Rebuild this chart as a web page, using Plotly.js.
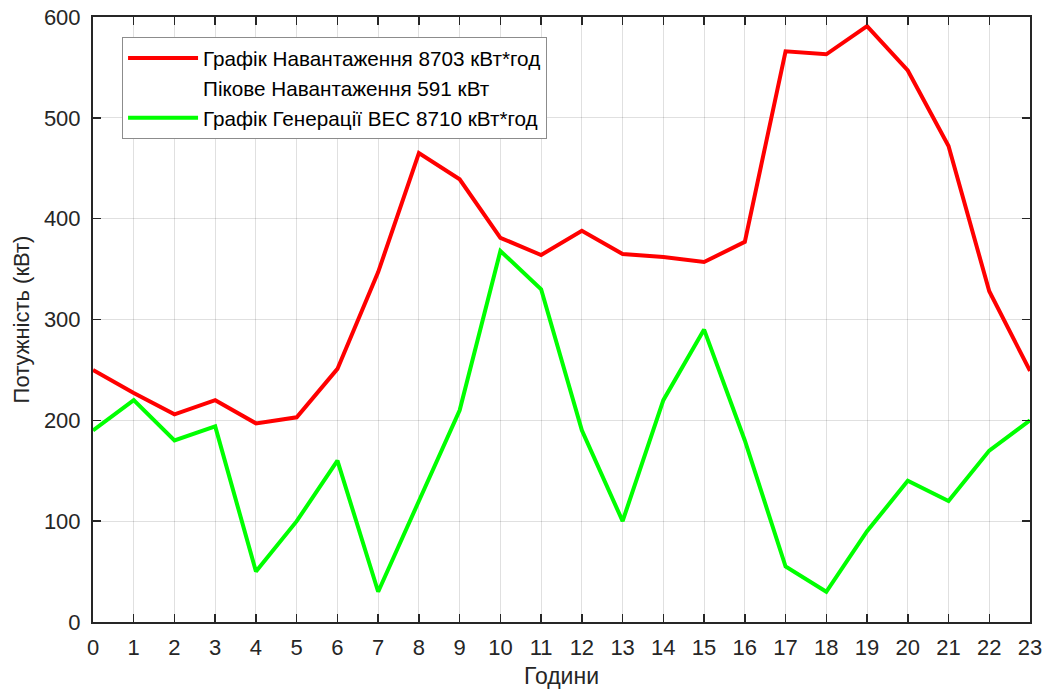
<!DOCTYPE html>
<html>
<head>
<meta charset="utf-8">
<script src="https://cdn.plot.ly/plotly-3.0.1.min.js"></script>
<style>html,body{margin:0;padding:0;background:#fff;}#chart{width:1046px;height:693px;}</style>
</head>
<body>
<div id="chart"></div>
<script>
const hours = [0,1,2,3,4,5,6,7,8,9,10,11,12,13,14,15,16,17,18,19,20,21,22,23];
const loadValues = [250,227,206,220,197,203,251,347,465,439,381,364,388,365,362,357,377,566,563,591,547,472,328,249];
const genValues = [190,220,180,194,50,100,160,30,120,210,368,330,190,100,220,290,180,55,30,90,140,120,170,200];
const loadName = "Графік Навантаження 8703 кВт*год";
const peakName = "Пікове Навантаження 591 кВт";
const genName = "Графік Генерації ВЕС 8710 кВт*год";
const xTicks = hours;
const yTicks = [0,100,200,300,400,500,600];

const font = "Liberation Sans, Arial, sans-serif";
const traces = [
  {x: hours, y: loadValues, type: 'scatter', mode: 'lines', name: loadName,
   line: {color: '#ff0000', width: 4}},
  {x: [null], y: [null], type: 'scatter', mode: 'lines', name: peakName,
   line: {color: 'rgba(0,0,0,0)', width: 0}},
  {x: hours, y: genValues, type: 'scatter', mode: 'lines', name: genName,
   line: {color: '#00ff00', width: 4}}
];
const axisCommon = {
  showline: true, mirror: 'ticks', linecolor: '#262626', linewidth: 2,
  ticks: 'inside', ticklen: 8, tickwidth: 1.5, tickcolor: '#262626',
  showgrid: true, gridcolor: 'rgba(0,0,0,0.12)', gridwidth: 1,
  zeroline: false, tickfont: {family: font, size: 22, color: '#262626'}
};
const layout = {
  width: 1046, height: 693,
  margin: {l: 93, r: 16, t: 17, b: 71},
  paper_bgcolor: '#fff', plot_bgcolor: '#fff',
  font: {family: font, color: '#262626'},
  xaxis: Object.assign({}, axisCommon, {
    range: [0, 23], tickmode: 'array', tickvals: xTicks, ticktext: xTicks.map(String),
    ticklabelstandoff: 5,
    title: {text: 'Години', font: {family: font, size: 23, color: '#262626'}, standoff: 8}
  }),
  yaxis: Object.assign({}, axisCommon, {
    range: [0, 600], tickmode: 'array', tickvals: yTicks, ticktext: yTicks.map(String),
    ticklabelstandoff: 6,
    title: {text: 'Потужність (кВт)', font: {family: font, size: 22, color: '#262626'}, standoff: 8}
  }),
  showlegend: true,
  legend: {
    x: 0.031, y: 0.967, xanchor: 'left', yanchor: 'top',
    bgcolor: '#fff', bordercolor: '#8c8c8c', borderwidth: 1,
    font: {family: font, size: 20.7, color: '#000'},
    tracegroupgap: 0, itemwidth: 70
  }
};
Plotly.newPlot('chart', traces, layout, {displayModeBar: false, staticPlot: true});
</script>
</body>
</html>
